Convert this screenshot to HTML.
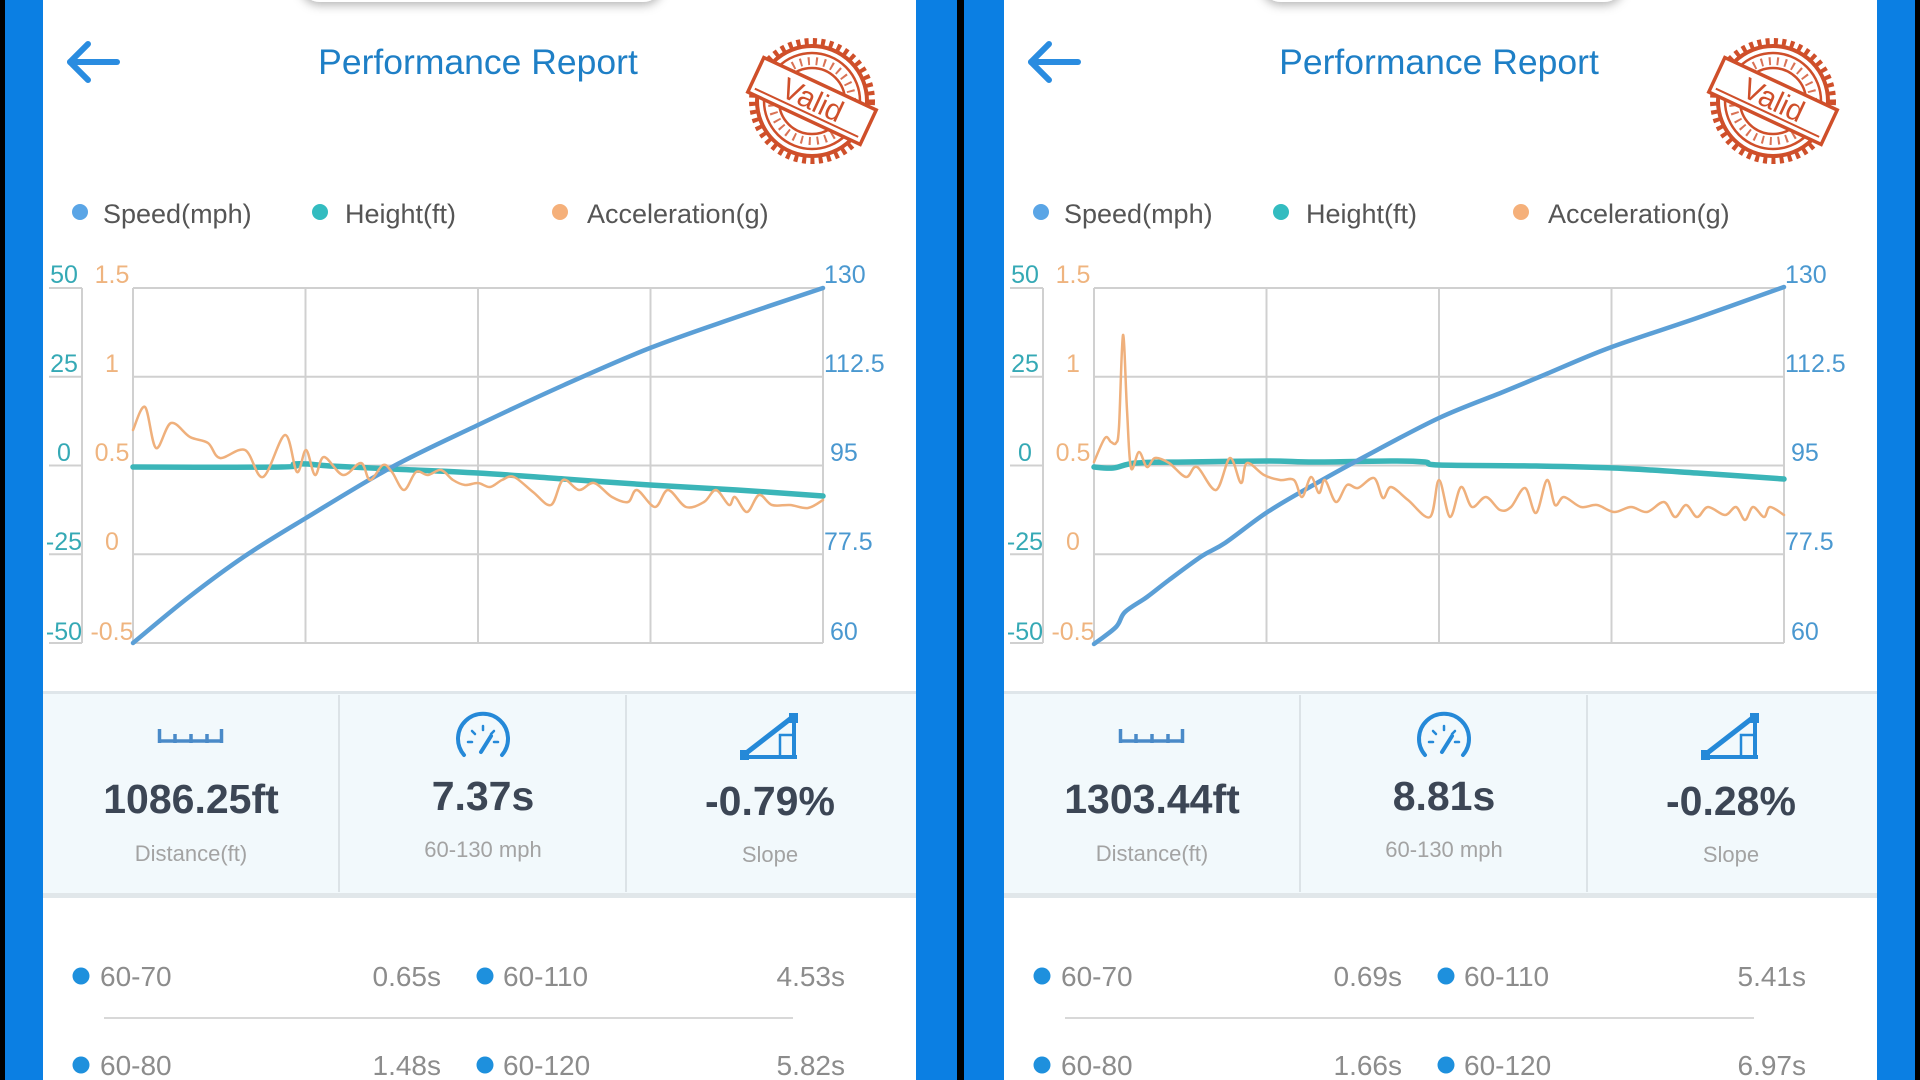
<!DOCTYPE html>
<html><head><meta charset="utf-8"><style>
html,body{margin:0;padding:0;width:1920px;height:1080px;overflow:hidden;background:#0b7fe3;}
svg{display:block}
text{font-family:"Liberation Sans",Arial,sans-serif}
</style></head><body>
<svg id="root" width="1920" height="1080" viewBox="0 0 1920 1080" xmlns="http://www.w3.org/2000/svg">
<defs>
<filter id="sh" x="-20%" y="-100%" width="140%" height="300%"><feDropShadow dx="0" dy="3" stdDeviation="5" flood-color="#000" flood-opacity="0.3"/></filter>
<g id="base">
  <rect x="0" y="0" width="873" height="1080" fill="#ffffff"/>
  <rect x="257" y="-40" width="363" height="42" rx="20" fill="#fff" filter="url(#sh)"/>
  <!-- arrow -->
  <g stroke="#2a8ce0" stroke-width="6" stroke-linecap="round" stroke-linejoin="round" fill="none">
    <line x1="27" y1="62" x2="74" y2="62"/>
    <polyline points="45,44 27,62 45,80"/>
  </g>
  <text x="435" y="74" font-size="35.5" fill="#1e7fc6" text-anchor="middle">Performance Report</text>
  <!-- stamp -->
  <g transform="translate(769,101)" stroke="#cf4f2a" fill="none">
    <circle r="59" stroke-width="8" stroke-dasharray="4 4.2"/>
    <circle r="55" stroke-width="4"/>
    <circle r="48" stroke-width="2.5"/>
    <circle r="40" stroke-width="8" stroke-dasharray="2 6" opacity="0.8"/>
    <circle r="33" stroke-width="2.5"/>
    <g transform="rotate(25)">
      <rect x="-62" y="-19" width="124" height="38" fill="#fff" stroke-width="3.5"/>
      <line x1="-57" y1="13" x2="57" y2="13" stroke-width="2"/>
      <text x="0" y="9" font-size="30" fill="#cf4f2a" stroke="none" text-anchor="middle">Valid</text>
    </g>
  </g>
  <!-- legend -->
  <circle cx="37" cy="212" r="8" fill="#5aa5e6"/>
  <text x="60" y="223" font-size="27" fill="#555">Speed(mph)</text>
  <circle cx="277" cy="212" r="8" fill="#33bcc0"/>
  <text x="302" y="223" font-size="27" fill="#555">Height(ft)</text>
  <circle cx="517" cy="212" r="8" fill="#f5b07a"/>
  <text x="544" y="223" font-size="27" fill="#555">Acceleration(g)</text>
  <!-- grid -->
  <g stroke="#d0d0d0" stroke-width="2" fill="none">
    <line x1="90" y1="288" x2="780" y2="288"/>
    <line x1="90" y1="376.75" x2="780" y2="376.75"/>
    <line x1="90" y1="465.5" x2="780" y2="465.5"/>
    <line x1="90" y1="554.25" x2="780" y2="554.25"/>
    <line x1="90" y1="643" x2="780" y2="643"/>
    <line x1="90" y1="288" x2="90" y2="643"/>
    <line x1="262.5" y1="288" x2="262.5" y2="643"/>
    <line x1="435" y1="288" x2="435" y2="643"/>
    <line x1="607.5" y1="288" x2="607.5" y2="643"/>
    <line x1="780" y1="288" x2="780" y2="643"/>
    <line x1="39" y1="288" x2="39" y2="643"/>
    <line x1="6" y1="288" x2="39" y2="288"/>
    <line x1="6" y1="376.75" x2="39" y2="376.75"/>
    <line x1="6" y1="465.5" x2="39" y2="465.5"/>
    <line x1="6" y1="554.25" x2="39" y2="554.25"/>
    <line x1="6" y1="643" x2="39" y2="643"/>
  </g>
  <g font-size="25" fill="#35a9b5" text-anchor="middle">
    <text x="21" y="283">50</text>
    <text x="21" y="372">25</text>
    <text x="21" y="461">0</text>
    <text x="21" y="550">-25</text>
    <text x="21" y="640">-50</text>
  </g>
  <g font-size="25" fill="#efb47f" text-anchor="middle">
    <text x="69" y="283">1.5</text>
    <text x="69" y="372">1</text>
    <text x="69" y="461">0.5</text>
    <text x="69" y="550">0</text>
    <text x="69" y="640">-0.5</text>
  </g>
  <g font-size="25" fill="#4a98d0">
    <text x="781" y="283">130</text>
    <text x="781" y="372">112.5</text>
    <text x="787" y="461">95</text>
    <text x="781" y="550">77.5</text>
    <text x="787" y="640">60</text>
  </g>
  <!-- stats card -->
  <rect x="0" y="692" width="873" height="202" fill="#f2f9fc"/>
  <rect x="0" y="691" width="873" height="3" fill="#dfe6ea"/>
  <rect x="0" y="893" width="873" height="5" fill="#e1e7ea"/>
  <line x1="296" y1="695" x2="296" y2="892" stroke="#dce3e7" stroke-width="2"/>
  <line x1="583" y1="695" x2="583" y2="892" stroke="#dce3e7" stroke-width="2"/>
  <!-- ruler icon -->
  <g stroke="#4a8ac8" stroke-width="3.5" fill="none">
    <line x1="115" y1="741" x2="180" y2="741"/>
    <line x1="116.5" y1="729" x2="116.5" y2="743"/>
    <line x1="132" y1="734" x2="132" y2="743"/>
    <line x1="148" y1="734" x2="148" y2="743"/>
    <line x1="164" y1="734" x2="164" y2="743"/>
    <line x1="178.5" y1="729" x2="178.5" y2="743"/>
  </g>
  <!-- gauge icon -->
  <g stroke="#2589d8" fill="none" stroke-linecap="round">
    <path d="M421,755 A25,25 0 1 1 459,755" stroke-width="4"/>
    <line x1="425" y1="742" x2="429" y2="742" stroke-width="2.5"/>
    <line x1="429" y1="731" x2="432" y2="734" stroke-width="2.5"/>
    <line x1="440" y1="726" x2="440" y2="730" stroke-width="2.5"/>
    <line x1="451" y1="731" x2="448" y2="734" stroke-width="2.5"/>
    <line x1="455" y1="742" x2="451" y2="742" stroke-width="2.5"/>
    <line x1="438" y1="752" x2="448" y2="736" stroke-width="4"/>
  </g>
  <!-- slope icon -->
  <g fill="#2589d8" stroke="#2589d8">
    <line x1="702" y1="754" x2="751" y2="716" stroke-width="5" />
    <line x1="751" y1="714" x2="751" y2="759" stroke-width="4"/>
    <line x1="698" y1="757" x2="754" y2="757" stroke-width="4"/>
    <rect x="737" y="735" width="14" height="22" fill="none" stroke-width="2.5"/>
    <rect x="697" y="750" width="9" height="10" stroke="none"/>
    <rect x="746" y="713" width="9" height="10" stroke="none"/>
  </g>
</g>
</defs>

<rect x="0" y="0" width="1920" height="1080" fill="#0b7fe3"/>
<rect x="0" y="0" width="5" height="1080" fill="#000"/>
<rect x="957" y="0" width="7" height="1080" fill="#000"/>
<rect x="1915" y="0" width="5" height="1080" fill="#000"/>

<!-- PANEL 1 -->
<g transform="translate(43,0)">
  <use href="#base"/>
  <g transform="translate(90,0)" fill="none" stroke-linejoin="round" stroke-linecap="round">
    <polyline class="s" stroke="#3bb5b8" stroke-width="5.5" points="0,467 149,467 161,464 175,464 197,466 259,469 345,473 431,479 517,485 604,490 690,496"/>
    <polyline class="s" stroke="#5b9fd6" stroke-width="4.5" points="0,643 56,597 112,556 173,518 259,467 345,425 431,385 517,348 604,317 690,288"/>
    <polyline class="s" stroke="#efb07c" stroke-width="2.5" points="0,430 12,407 23,448 38,423 57,437 75,443 87,458 112,450 130,477 152,435 164,472 173,450 182,475 191,457 210,475 228,463 237,480 250,465 259,472 271,490 283,472 295,475 308,470 320,480 332,485 345,483 357,487 369,480 381,477 400,492 418,505 430,480 446,490 461,483 479,497 495,502 504,490 522,507 535,490 553,507 571,502 583,490 596,505 602,497 614,512 626,495 639,505 657,505 675,508 690,500"/>
  </g>
  <g text-anchor="middle">
    <text x="148" y="813" font-size="41" font-weight="bold" fill="#3c4655">1086.25ft</text>
    <text x="440" y="810" font-size="41" font-weight="bold" fill="#3c4655">7.37s</text>
    <text x="727" y="815" font-size="41" font-weight="bold" fill="#3c4655">-0.79%</text>
    <text x="148" y="861" font-size="22" fill="#a3a3a3">Distance(ft)</text>
    <text x="440" y="857" font-size="22" fill="#a3a3a3">60-130 mph</text>
    <text x="727" y="862" font-size="22" fill="#a3a3a3">Slope</text>
  </g>
  <g font-size="28" fill="#8c8c8c">
    <circle cx="38" cy="976" r="8.5" fill="#1e90dd"/>
    <text x="57" y="986">60-70</text>
    <text x="398" y="986" text-anchor="end">0.65s</text>
    <circle cx="442" cy="976" r="8.5" fill="#1e90dd"/>
    <text x="460" y="986">60-110</text>
    <text x="802" y="986" text-anchor="end">4.53s</text>
    <line x1="61" y1="1018" x2="750" y2="1018" stroke="#d8d8d8" stroke-width="2"/>
    <circle cx="38" cy="1065" r="8.5" fill="#1e90dd"/>
    <text x="57" y="1075">60-80</text>
    <text x="398" y="1075" text-anchor="end">1.48s</text>
    <circle cx="442" cy="1065" r="8.5" fill="#1e90dd"/>
    <text x="460" y="1075">60-120</text>
    <text x="802" y="1075" text-anchor="end">5.82s</text>
  </g>
</g>

<!-- PANEL 2 -->
<g transform="translate(1004,0)">
  <use href="#base"/>
  <g transform="translate(90,0)" fill="none" stroke-linejoin="round" stroke-linecap="round">
    <polyline class="s" stroke="#3bb5b8" stroke-width="5.5" points="0,467 19,468 42,463 92,462 175,461 220,462 297,461 331,462 345,465 442,466 520,468 603,473 690,479"/>
    <polyline class="s" stroke="#5b9fd6" stroke-width="4.5" points="0,644 22,627 31,612 53,597 75,580 108,556 131,543 172,513 214,488 270,457 345,418 409,392 450,375 515,348 603,318 690,287"/>
    <polyline class="s" stroke="#efb07c" stroke-width="2.5" points="0,462 11,438 17,442 22,443 25,427 29,335 33,410 37,468 45,452 53,467 61,458 75,463 92,477 103,467 122,490 136,458 147,483 153,463 170,475 186,480 200,480 208,497 217,477 225,493 231,480 242,502 253,485 264,488 280,478 289,498 297,487 314,500 336,517 345,480 356,517 367,487 378,507 392,497 406,510 417,507 431,488 442,513 453,480 461,505 470,497 487,507 503,505 520,512 537,507 553,512 570,502 581,517 592,505 603,517 614,507 631,515 642,507 651,520 659,507 670,517 676,507 690,515"/>
  </g>
  <g text-anchor="middle">
    <text x="148" y="813" font-size="41" font-weight="bold" fill="#3c4655">1303.44ft</text>
    <text x="440" y="810" font-size="41" font-weight="bold" fill="#3c4655">8.81s</text>
    <text x="727" y="815" font-size="41" font-weight="bold" fill="#3c4655">-0.28%</text>
    <text x="148" y="861" font-size="22" fill="#a3a3a3">Distance(ft)</text>
    <text x="440" y="857" font-size="22" fill="#a3a3a3">60-130 mph</text>
    <text x="727" y="862" font-size="22" fill="#a3a3a3">Slope</text>
  </g>
  <g font-size="28" fill="#8c8c8c">
    <circle cx="38" cy="976" r="8.5" fill="#1e90dd"/>
    <text x="57" y="986">60-70</text>
    <text x="398" y="986" text-anchor="end">0.69s</text>
    <circle cx="442" cy="976" r="8.5" fill="#1e90dd"/>
    <text x="460" y="986">60-110</text>
    <text x="802" y="986" text-anchor="end">5.41s</text>
    <line x1="61" y1="1018" x2="750" y2="1018" stroke="#d8d8d8" stroke-width="2"/>
    <circle cx="38" cy="1065" r="8.5" fill="#1e90dd"/>
    <text x="57" y="1075">60-80</text>
    <text x="398" y="1075" text-anchor="end">1.66s</text>
    <circle cx="442" cy="1065" r="8.5" fill="#1e90dd"/>
    <text x="460" y="1075">60-120</text>
    <text x="802" y="1075" text-anchor="end">6.97s</text>
  </g>
</g>
</svg>
<script>
(function(){
  var NS="http://www.w3.org/2000/svg";
  var list=document.querySelectorAll('polyline.s');
  for(var k=0;k<list.length;k++){
    var pl=list[k];
    var pts=pl.getAttribute('points').trim().split(/\s+/).map(function(p){return p.split(',').map(Number);});
    var d='M'+pts[0][0]+','+pts[0][1];
    for(var i=0;i<pts.length-1;i++){
      var p0=pts[i-1]||pts[i],p1=pts[i],p2=pts[i+1],p3=pts[i+2]||p2;
      var c1x=p1[0]+(p2[0]-p0[0])/6,c1y=p1[1]+(p2[1]-p0[1])/6;
      var c2x=p2[0]-(p3[0]-p1[0])/6,c2y=p2[1]-(p3[1]-p1[1])/6;
      d+=' C'+c1x.toFixed(2)+','+c1y.toFixed(2)+' '+c2x.toFixed(2)+','+c2y.toFixed(2)+' '+p2[0]+','+p2[1];
    }
    var path=document.createElementNS(NS,'path');
    path.setAttribute('d',d);
    path.setAttribute('stroke',pl.getAttribute('stroke'));
    path.setAttribute('stroke-width',pl.getAttribute('stroke-width'));
    path.setAttribute('fill','none');
    pl.parentNode.replaceChild(path,pl);
  }
})();
</script>
</body></html>
